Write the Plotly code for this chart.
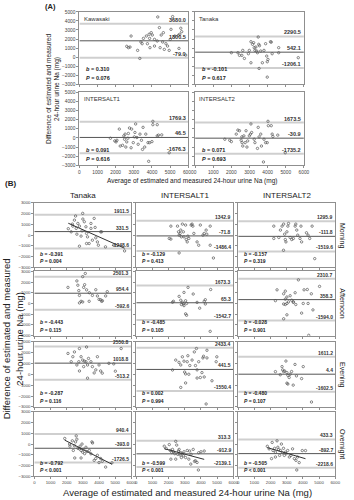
import plotly.graph_objects as go
import numpy as np

W, H = 354, 500
FONT = "Liberation Sans, Arial, sans-serif"

# ---------------- Panel A data ----------------
A_names = ["Kawasaki", "Tanaka", "INTERSALT1", "INTERSALT2"]
A_upper = [3680.0, 2290.5, 1769.3, 1673.5]
A_mean = [1800.5, 542.1, 46.5, -30.9]
A_lower = [-79.0, -1206.1, -1676.3, -1735.2]
A_b = ["0.310", "-0.101", "0.091", "0.071"]
A_p = ["= 0.076", "= 0.617", "= 0.616", "= 0.693"]

A_kaw_x = [2610, 2700, 2790, 2850, 3210, 3330, 3390, 3460, 3530, 3690, 3750, 3840, 3870, 3890, 3960, 4020, 4140, 4140, 4290, 4320,
           4410, 4450, 4510, 4590, 4630, 4680, 4770, 4860, 4950, 5010, 5050, 5140, 5260, 5460, 5530, 5590, 5640, 5490, 5860]
A_kaw_y = [1190, 1040, 1110, 2330, 740, -150, 1670, 1480, 2070, 2330, 1480, 2520, 2070, 1040, 2700, 2440, 1960, 1220, 1780, 4440,
           3260, 1040, 2440, 1670, 2700, 850, 1480, 1220, 740, 1960, 3070, 4480, 2330, 2410, 2520, 3190, 2810, 960, 220]

A_tan_x = [2000, 2360, 2450, 2580, 2630, 2720, 2940, 2990, 3080, 3080, 3170, 3230, 3260, 3300, 3350, 3400, 3480, 3510, 3530, 3550,
           3440, 3620, 3710, 3800, 3890, 3950, 3980, 3980, 4020, 4160, 4200, 4250, 4610, 4610, 5690]
A_tan_y = [480, 480, 190, 190, 740, -150, 370, 740, -630, 1700, 1410, 1590, 1040, 740, 1110, 670, 2220, 1410, -1260, 1260,
           480, 670, -630, 740, 1480, 110, -520, -2220, -260, 1700, 1650, 370, 480, 1040, -70]

A_is1_x = [1710, 1950, 2020, 2070, 2200, 2250, 2380, 2450, 2490, 2520, 2560, 2610, 2670, 2700, 2760, 2850, 2880, 2970, 3030, 3060,
           3100, 3170, 3240, 3340, 3420, 3480, 3510, 3600, 3660, 3780, 3870, 3820, 4000, 4050, 4050, 4290, 4290, 4360, 4540, 4950]
A_is1_y = [-40, -330, -440, -260, 960, -890, -810, 220, -150, 410, -1000, -440, -40, 480, 1080, -1080, 960, -520, 110, 590,
           1520, 40, -700, 410, -260, -1260, 1150, -1000, 410, -520, -520, -2560, -410, 1810, 1440, 1440, 220, 300, 330, -1630]

A_is2_x = [1640, 1910, 2000, 2270, 2360, 2450, 2540, 2580, 2590, 2630, 2690, 2760, 2810, 2860, 2900, 2990, 3050, 3080, 3120, 3260,
           3300, 3440, 3480, 3530, 3620, 3660, 3770, 3800, 3890, 3980, 4020, 4040, 4200, 4250, 4290, 4560, 4970]
A_is2_y = [-150, -260, -410, 410, 850, 780, -260, 110, -520, -890, 220, -520, 780, -1000, -330, 220, 410, 1520, 590, -150,
           -520, -1150, 1150, 110, 410, -890, -2630, -150, -520, -520, 1810, 1330, 1330, 410, 150, 300, -1630]

# ---------------- Panel B data ----------------
B_cols = ["Tanaka", "INTERSALT1", "INTERSALT2"]
B_rows = ["Morning", "Afternoon", "Evening", "Overnight"]
B_upper = [[1911.5, 1342.9, 1295.9], [2501.3, 1673.3, 2310.7], [2550.8, 2433.4, 1611.2], [940.4, 313.3, 433.3]]
B_mean = [[331.5, -71.8, -111.8], [954.4, 65.3, 358.3], [1018.8, 441.5, 4.4], [-393.0, -912.9, -892.7]]
B_lower = [[-1248.6, -1486.4, -1519.6], [-592.6, -1542.7, -1594.0], [-513.2, -1550.4, -1602.5], [-1726.5, -2139.1, -2218.6]]
B_b = [["-0.391", "-0.129", "-0.157"], ["-0.443", "-0.485", "-0.028"], ["-0.287", "0.002", "-0.480"], ["-0.792", "-0.599", "-0.505"]]
B_p = [["= 0.004", "= 0.413", "= 0.319"], ["= 0.115", "= 0.105", "= 0.901"], ["= 0.116", "= 0.994", "= 0.107"], ["< 0.001", "< 0.001", "< 0.001"]]
B_fit = [[True, False, False], [False, False, False], [False, False, False], [True, True, True]]

tm_x = [2280, 2480, 2550, 2380, 2590, 2630, 2690, 2790, 2890, 2950, 2990, 3090, 3190, 3230, 3230, 3290, 3390, 3500, 3500, 3590,
        3700, 3760, 3800, 3900, 3960, 4100, 4160, 4400, 2790, 4910, 5580, 2350, 2100, 3000]
tm_y = [310, 1400, 1780, 840, 630, 90, 1090, 840, -90, 400, 2030, 1250, 780, 160, -780, -160, -780, 630, 1090, -470,
        1560, 720, -250, -630, -940, 310, 310, -1090, -1030, -940, -1470, 1030, 600, 1500]
i1m_x = [2140, 2040, 2140, 2550, 2610, 2650, 2710, 2750, 2790, 2850, 2910, 2950, 3050, 3090, 3150, 3190, 3250, 3390, 3450, 3500,
         3560, 3760, 3860, 3960, 4120, 4200, 4320, 4360, 4570, 4570, 2650, 4770]
i1m_y = [840, -310, -370, 840, 310, 0, 160, 470, -160, 1030, 310, -160, 940, -400, -630, -90, -310, 940, 1030, 840,
         160, -630, -940, 940, 0, 160, 470, 90, 840, -940, -1660, -2130]
i2m_x = [2200, 2200, 2510, 2610, 2710, 2810, 2870, 2910, 2950, 3010, 3070, 3110, 3210, 3310, 3410, 3520, 3560, 3620, 3680, 3820,
         3880, 3920, 4220, 4320, 4420, 4570, 2800, 4730]
i2m_y = [840, -310, -220, 470, 840, 1030, 90, -410, -630, 310, 840, 1090, -220, -410, -310, 840, 1030, 470, 0, -310,
         840, -630, 220, 0, -310, 840, -1410, -2190]

ta_x = [2080, 2630, 2690, 2750, 2790, 2990, 3050, 3110, 3230, 3390, 3590, 3800, 3900, 4000, 4210, 4510, 2890, 2790, 3150, 4410,
        2990, 4100, 4160, 3400]
ta_y = [1500, 2100, 1700, 1200, 750, 2500, 1500, 1750, 1270, 200, 750, 1280, 700, 380, 250, 1100, 200, 50, 2800, 700,
        140, 350, 200, 1000]
i1a_x = [2240, 2650, 2750, 2850, 2910, 2950, 3050, 3110, 3520, 3760, 4270, 4270, 4600, 2300, 2790, 2950, 3050, 3110, 3920, 4200,
         4570, 3200]
i1a_y = [110, 660, 300, 100, -50, 1030, 250, 0, 880, 100, 350, -50, 1300, 200, -100, -200, -970, -1100, -440, 200,
         -2600, 1500]
i2a_x = [3720, 2400, 2810, 2910, 3210, 3520, 4070, 4270, 4520, 5030, 2910, 3010, 3310, 3410, 2300, 2810, 2910, 3010, 3110, 3410,
         3560, 4020, 4320, 3010, 2810, 3920, 4620, 4360]
i2a_y = [2200, 1270, 900, 1150, 720, 1000, 1270, 1300, 900, 1590, 400, 600, 300, 150, 260, -50, -100, 0, 150, 100,
         -100, 0, 0, -1060, -1430, -900, -600, -2970]

te_x = [2080, 2280, 2380, 2480, 2630, 2750, 2790, 2890, 2990, 3050, 3090, 3190, 3230, 3290, 3350, 3500, 3590, 3700, 3800, 3900,
        4000, 4100, 4200, 4610, 4910, 5010, 5370, 3290, 2790]
te_y = [1910, 1150, 1610, 2050, 850, 1150, 2360, 1610, 1300, 700, 1200, 1150, 2500, 850, 1450, 1150, 700, 120, 400, 1610,
        850, 300, 100, 1000, 950, 280, 2360, -360, 300]
i1e_x = [2240, 2440, 2640, 2750, 2850, 2950, 2990, 3050, 3150, 3190, 3250, 3310, 3450, 3590, 3660, 3720, 3760, 3860, 3960, 4060,
         4120, 4160, 4200, 4370, 4370, 4680, 4940, 4980, 2750, 3050, 3760, 4320]
i1e_y = [390, 1300, 1090, 850, 1600, 1200, 200, 30, 1150, 1700, 0, 800, 1300, 2050, 800, 2360, 400, 1150, -300, 150,
         1500, 1650, -250, 2200, 1500, -600, 1150, 1600, -1210, -800, -350, -2730]
i2e_x = [2300, 2710, 2750, 2810, 2870, 2950, 3010, 3070, 3150, 3210, 3510, 3920, 4020, 3010, 3070, 4530, 2600, 3300, 3600, 3400]
i2e_y = [240, 700, 400, 240, 300, 1210, 150, -100, -300, 0, 900, -400, 700, -820, -900, -2550, -50, 250, -150, -1000]

tn_x = [1880, 2180, 2350, 2410, 2480, 2550, 2590, 2630, 2690, 2790, 2830, 2890, 2950, 2990, 3050, 3110, 3190, 3250, 3500, 3560,
        3600, 3700, 3800, 3900, 4000, 4100, 4200, 2890, 2500, 4410, 2200, 3400, 4800]
tn_y = [520, 0, 300, -600, -150, 200, 760, 450, -400, -450, -200, -600, 0, -760, -500, -900, -300, -700, -910, 200,
        100, -1520, -1350, -1050, -1730, -1350, -1610, -1300, -1300, -2150, -200, -600, -1750]
i1n_x = [1730, 1850, 2040, 2100, 2200, 2240, 2300, 2380, 2440, 2500, 2560, 2610, 2650, 2710, 2750, 2790, 2850, 2910, 2950, 3050,
         3150, 3250, 3300, 3390, 3520, 3600, 3660, 3760, 3860, 4000, 4200, 2140, 2440, 3840, 3370]
i1n_y = [-200, -410, -50, -600, -800, -500, -720, -900, 250, -100, -960, -650, -500, -1020, -800, -1260, -900, -1100, -720, -1260,
         -600, -1410, -650, -960, -500, -1620, -1560, -1720, -810, -720, -650, -1410, -1410, -2420, -1870]
i2n_x = [1800, 1910, 2100, 2150, 2250, 2300, 2400, 2450, 2500, 2560, 2610, 2670, 2740, 2800, 2850, 2920, 2970, 3060, 3160, 3260,
         3360, 3470, 3570, 3670, 3770, 3960, 4160, 2060, 2300, 3620]
i2n_y = [-210, -450, 150, -600, -400, -760, 300, -300, -520, -1060, -600, 0, -820, -400, -1060, -760, -900, -600, -1210, -1060,
         -450, -1360, -1520, -1210, -1730, -610, -610, -1360, -1210, -2420]

A_x = [A_kaw_x, A_tan_x, A_is1_x, A_is2_x]
A_y = [A_kaw_y, A_tan_y, A_is1_y, A_is2_y]
B_x = [[tm_x, i1m_x, i2m_x], [ta_x, i1a_x, i2a_x], [te_x, i1e_x, i2e_x], [tn_x, i1n_x, i2n_x]]
B_y = [[tm_y, i1m_y, i2m_y], [ta_y, i1a_y, i2a_y], [te_y, i1e_y, i2e_y], [tn_y, i1n_y, i2n_y]]

x_ticks = [0, 1000, 2000, 3000, 4000, 5000, 6000]
A_y_ticks = [5000, 4000, 3000, 2000, 1000, 0, -1000, -2000, -3000]
B_y_ticks = [3000, 2000, 1000, 0, -1000, -2000, -3000]

# ---------------- layout geometry (pixels) ----------------
A_cols_px = [(80, 191), (198, 309)]
A_rows_px = [(10, 83), (91, 165)]
B_cols_px = [(34, 133), (138, 237), (242, 341)]
B_rows_px = [(203, 268), (272, 337), (343, 409), (414, 479)]

fig = go.Figure()
layout = dict(width=W, height=H, margin=dict(l=0, r=0, t=0, b=0), paper_bgcolor="white",
              plot_bgcolor="white", showlegend=False, font=dict(family=FONT, color="#333"))
shapes, annos = [], []

AXC = "#8f8f8f"


def dom_x(px):
    return [px[0] / W, px[1] / W]


def dom_y(py):
    return [1 - py[1] / H, 1 - py[0] / H]


def add_panel(n, xpx, ypx, xs, ys, up, mn, lo, b, p, yticks, yrange, show_xl, show_yl, fs, name=None, fit=False):
    xa = "xaxis" if n == 1 else f"xaxis{n}"
    ya = "yaxis" if n == 1 else f"yaxis{n}"
    xr = "x" if n == 1 else f"x{n}"
    yr = "y" if n == 1 else f"y{n}"
    common = dict(showline=True, mirror=True, linecolor=AXC, linewidth=1, ticks="outside", ticklen=2,
                  tickcolor=AXC, tickwidth=1, showgrid=False, zeroline=False,
                  tickfont=dict(size=fs - 0.7, color="#444"))
    layout[xa] = dict(common, domain=dom_x(xpx), range=[0, 6000], tickvals=x_ticks,
                      showticklabels=show_xl, anchor=yr)
    layout[ya] = dict(common, domain=dom_y(ypx), range=list(yrange), tickvals=yticks,
                      showticklabels=show_yl, anchor=xr)
    for val, col, wd in [(up, "#cfcfcf", 2), (lo, "#cfcfcf", 2), (mn, "#555", 1)]:
        shapes.append(dict(type="line", xref=xr, yref=yr, x0=0, x1=6000, y0=val, y1=val,
                           line=dict(color=col, width=wd), layer="below"))
        annos.append(dict(xref=f"{xr} domain", yref=yr, x=0.985, y=val, xanchor="right", yanchor="bottom",
                          text=f"<b>{val:.1f}</b>", showarrow=False, font=dict(size=fs, color="#333"),
                          borderpad=0))
    fig.add_trace(go.Scatter(x=xs, y=ys, mode="markers", xaxis=xr, yaxis=yr,
                             marker=dict(symbol="circle-open", size=2.4, color="#555", line=dict(width=0.7))))
    if fit:
        cf = np.polyfit(xs, ys, 1)
        fx = [min(xs), max(xs)]
        fig.add_trace(go.Scatter(x=fx, y=list(np.polyval(cf, fx)), mode="lines", xaxis=xr, yaxis=yr,
                                 line=dict(color="#333", width=1)))
    annos.append(dict(xref=f"{xr} domain", yref=f"{yr} domain", x=0.05, y=0.15, xanchor="left", yanchor="bottom",
                      text=f"<b><i>b</i> = {b}</b>", showarrow=False, font=dict(size=fs, color="#222"), borderpad=0))
    annos.append(dict(xref=f"{xr} domain", yref=f"{yr} domain", x=0.05, y=0.03, xanchor="left", yanchor="bottom",
                      text=f"<b><i>P</i> {p}</b>", showarrow=False, font=dict(size=fs, color="#222"), borderpad=0))
    if name:
        annos.append(dict(xref=f"{xr} domain", yref=f"{yr} domain", x=0.03, y=0.96, xanchor="left", yanchor="top",
                          text=name, showarrow=False, font=dict(size=fs + 0.5, color="#333"), borderpad=0))


n = 1
for i in range(4):
    r, c = divmod(i, 2)
    add_panel(n, A_cols_px[c], A_rows_px[r], A_x[i], A_y[i], A_upper[i], A_mean[i], A_lower[i],
              A_b[i], A_p[i], A_y_ticks, (-3000, 5000), show_xl=(r == 1), show_yl=(c == 0), fs=5.5, name=A_names[i])
    n += 1

for r in range(4):
    for c in range(3):
        add_panel(n, B_cols_px[c], B_rows_px[r], B_x[r][c], B_y[r][c], B_upper[r][c], B_mean[r][c], B_lower[r][c],
                  B_b[r][c], B_p[r][c], B_y_ticks, (-3000, 3000), show_xl=(r == 3), show_yl=(c == 0), fs=5,
                  fit=B_fit[r][c])
        n += 1


def px_anno(x, y, text, size, angle=0, bold=False, xanchor="center", yanchor="middle"):
    annos.append(dict(xref="paper", yref="paper", x=x / W, y=1 - y / H, text=f"<b>{text}</b>" if bold else text,
                      showarrow=False, textangle=angle, font=dict(size=size, color="#222"),
                      xanchor=xanchor, yanchor=yanchor))


px_anno(50, 5, "(A)", 7.5, bold=True)
px_anno(195, 181, "Average of estimated and measured 24-hour urine Na (mg)", 6.5)
px_anno(53, 88, "Difference of estimated and measured<br>24-hour urine Na (mg)", 6.5, angle=-90)

px_anno(10, 183, "(B)", 8, bold=True)
for c, nm in enumerate(B_cols):
    px_anno((B_cols_px[c][0] + B_cols_px[c][1]) / 2, 195, nm, 8)
for r, nm in enumerate(B_rows):
    px_anno(348, (B_rows_px[r][0] + B_rows_px[r][1]) / 2, nm, 7, angle=90)
px_anno(12, 340, "Difference of estimated and measured<br>24-hour urine Na (mg)", 9.5, angle=-90)
px_anno(190, 495, "Average of estimated and measured 24-hour urine Na (mg)", 9.5)

layout["shapes"] = shapes
layout["annotations"] = annos
fig.update_layout(**layout)
fig.write_html("out.html")
